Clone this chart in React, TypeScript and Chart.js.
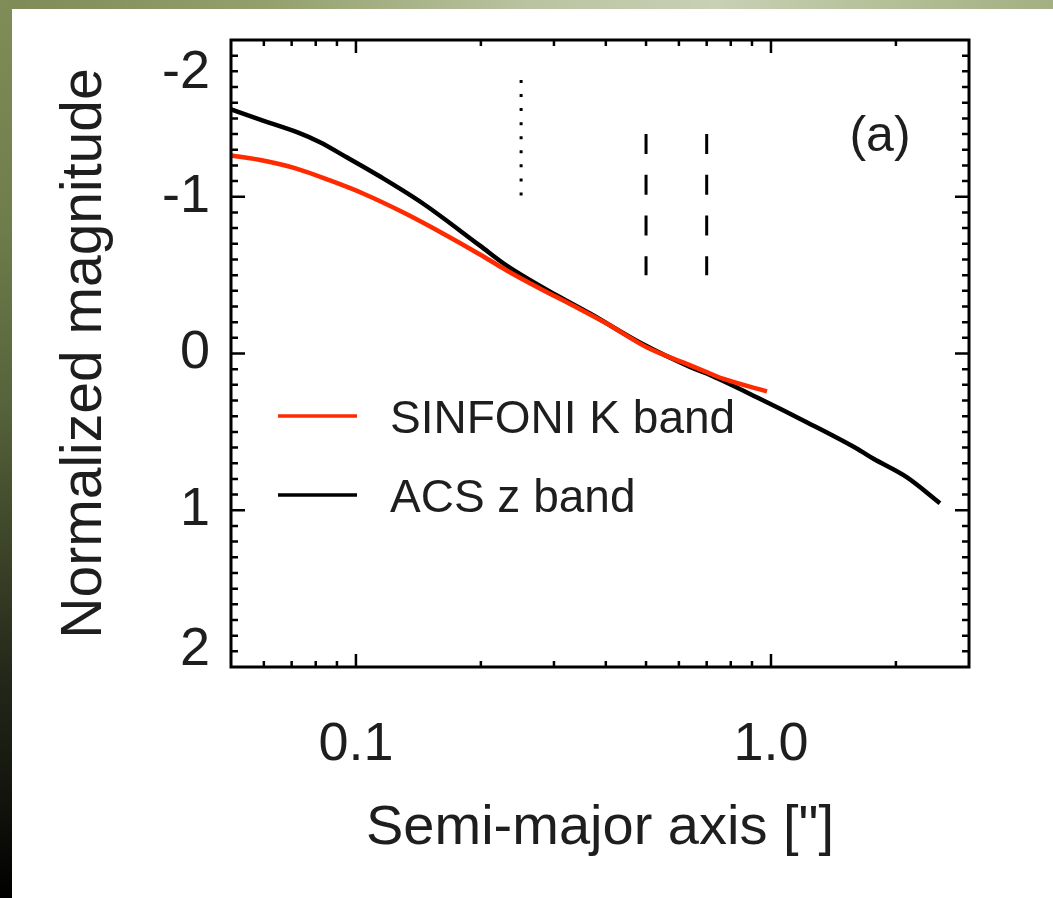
import React, { useEffect, useRef } from 'react';
import { Chart, registerables } from 'chart.js';

Chart.register(...registerables);

// ---- data ----
const acsRadius = [0.05, 0.0597, 0.0721, 0.0819, 0.095, 0.1143, 0.145, 0.199, 0.2308, 0.305, 0.3664, 0.483, 0.638, 0.7, 0.924, 1.219, 1.609, 1.762, 2.123, 2.553];
const acsMag = [-1.557, -1.486, -1.412, -1.348, -1.252, -1.129, -0.957, -0.688, -0.561, -0.37, -0.255, -0.07, 0.085, 0.128, 0.279, 0.438, 0.606, 0.67, 0.789, 0.955];

const sinfoniRadius = [0.05, 0.0597, 0.0719, 0.0866, 0.104, 0.1298, 0.162, 0.199, 0.2308, 0.2774, 0.3333, 0.4019, 0.5017, 0.614, 0.7, 0.766, 0.978];
const sinfoniMag = [-1.263, -1.231, -1.18, -1.104, -1.021, -0.901, -0.766, -0.632, -0.53, -0.415, -0.306, -0.191, -0.04, 0.057, 0.119, 0.161, 0.242];

const dottedMarkerX = [0.25, 0.25];
const dottedMarkerY = [-1.745, -1.0];
const dashedMarker1X = [0.5, 0.5];
const dashedMarker2X = [0.7, 0.7];
const dashedMarkerY = [-1.4, -0.5];

const seriesLabels = ['SINFONI K band', 'ACS z band'];
const panelLabel = '(a)';

const xTickValues = [0.06, 0.07, 0.08, 0.09, 0.1, 0.2, 0.3, 0.4, 0.5, 0.6, 0.7, 0.8, 0.9, 1, 2];
const xMajorValues = [0.1, 1];
const xMajorLabels = ['0.1', '1.0'];
const yTickValues = [-2, -1, 0, 1, 2];
const yTickLabels = ['-2', '-1', '0', '1', '2'];

const xTitle = 'Semi-major axis ["]';
const yTitle = 'Normalized magnitude';

const FONT = "'Liberation Sans', Arial, Helvetica, sans-serif";
const TEXT = '#1e1e1e';
const RED = '#ff2a00';

const pts = (xs: number[], ys: number[]) => xs.map((x, i) => ({ x, y: ys[i] }));

const framePlugin = {
  id: 'idlFrame',
  afterDatasetsDraw(chart: any) {
    const { ctx, chartArea, scales } = chart;
    const { left, right, top, bottom } = chartArea;
    const xs = scales.x;
    const ys = scales.y;
    ctx.save();
    ctx.strokeStyle = '#000';
    ctx.lineCap = 'butt';
    ctx.lineWidth = 2.5;
    ctx.beginPath();
    xTickValues.forEach((v) => {
      const px = xs.getPixelForValue(v);
      const len = xMajorValues.includes(v) ? 13 : 6;
      ctx.moveTo(px, bottom);
      ctx.lineTo(px, bottom - len);
      ctx.moveTo(px, top);
      ctx.lineTo(px, top + len);
    });
    const yMin = ys.min;
    const yMax = ys.max;
    const n = Math.round((yMax - yMin) / 0.1);
    for (let i = 1; i < n; i++) {
      const v = yMin + i * 0.1;
      const py = ys.getPixelForValue(v);
      const major = Math.abs(v - Math.round(v)) < 1e-6;
      const len = major ? 14 : 7;
      ctx.moveTo(left, py);
      ctx.lineTo(left + len, py);
      ctx.moveTo(right, py);
      ctx.lineTo(right - len, py);
    }
    ctx.stroke();
    ctx.lineWidth = 3;
    ctx.strokeRect(left, top, right - left, bottom - top);

    // y tick labels
    ctx.fillStyle = TEXT;
    ctx.font = `54px ${FONT}`;
    ctx.textAlign = 'right';
    ctx.textBaseline = 'middle';
    yTickValues.forEach((v, i) => {
      let py = ys.getPixelForValue(v);
      py = Math.min(Math.max(py, top + 33), bottom - 17);
      ctx.fillText(yTickLabels[i], left - 21, py);
    });

    // legend
    const legendColors = [RED, '#000'];
    const legendY = [xs.top - 251, xs.top - 172];
    ctx.font = `46px ${FONT}`;
    ctx.textAlign = 'left';
    ctx.textBaseline = 'alphabetic';
    seriesLabels.forEach((lab, i) => {
      const ly = legendY[i];
      ctx.strokeStyle = legendColors[i];
      ctx.lineWidth = 3.5;
      ctx.beginPath();
      ctx.moveTo(left + 47, ly);
      ctx.lineTo(left + 126, ly);
      ctx.stroke();
      ctx.fillText(lab, left + 159, ly + 17);
    });

    // panel label
    ctx.font = `50px ${FONT}`;
    ctx.textAlign = 'center';
    ctx.textBaseline = 'middle';
    ctx.fillText(panelLabel, right - 89, top + 97);
    ctx.restore();
  },
};

export default function App() {
  const canvasRef = useRef<HTMLCanvasElement | null>(null);

  useEffect(() => {
    if (!canvasRef.current) return;
    const curve = {
      borderWidth: 4.5,
      pointRadius: 0,
      cubicInterpolationMode: 'monotone',
      borderCapStyle: 'butt',
      borderJoinStyle: 'round',
    };
    const chart = new Chart(canvasRef.current, {
      type: 'line',
      data: {
        datasets: [
          { label: seriesLabels[0], data: pts(sinfoniRadius, sinfoniMag), borderColor: RED, ...curve },
          { label: seriesLabels[1], data: pts(acsRadius, acsMag), borderColor: '#000', ...curve },
          {
            label: 'dotted',
            data: pts(dottedMarkerX, dottedMarkerY),
            borderColor: '#000',
            borderWidth: 3,
            pointRadius: 0,
            borderDash: [3, 11.06],
            borderCapStyle: 'butt',
          },
          {
            label: 'dashed1',
            data: pts(dashedMarker1X, dashedMarkerY),
            borderColor: '#000',
            borderWidth: 3,
            pointRadius: 0,
            borderDash: [20, 20.7],
            borderCapStyle: 'butt',
          },
          {
            label: 'dashed2',
            data: pts(dashedMarker2X, dashedMarkerY),
            borderColor: '#000',
            borderWidth: 3,
            pointRadius: 0,
            borderDash: [20, 20.7],
            borderCapStyle: 'butt',
          },
        ],
      },
      options: {
        animation: false,
        responsive: true,
        maintainAspectRatio: false,
        layout: { padding: { left: 0, top: 31, right: 84, bottom: 0 } },
        plugins: { legend: { display: false }, tooltip: { enabled: false } },
        scales: {
          x: {
            type: 'logarithmic',
            min: 0.05,
            max: 3,
            grid: { display: false, drawTicks: false },
            border: { display: false },
            afterBuildTicks: (scale: any) => {
              scale.ticks = xTickValues.map((v) => ({ value: v, major: xMajorValues.includes(v) }));
            },
            afterFit: (scale: any) => {
              scale.height = 231;
            },
            ticks: {
              autoSkip: false,
              maxRotation: 0,
              minRotation: 0,
              padding: 46,
              color: TEXT,
              font: { family: FONT, size: 54 },
              callback: (value: any) => {
                const idx = xMajorValues.findIndex((m) => Math.abs(m - Number(value)) < 1e-9);
                return idx >= 0 ? xMajorLabels[idx] : '';
              },
            },
            title: {
              display: true,
              text: xTitle,
              color: TEXT,
              font: { family: FONT, size: 56 },
              padding: { top: 0, bottom: 36 },
            },
          },
          y: {
            type: 'linear',
            reverse: true,
            min: -2,
            max: 2,
            grid: { display: false, drawTicks: false },
            border: { display: false },
            ticks: { display: false },
            afterFit: (scale: any) => {
              scale.width = 219;
            },
            title: {
              display: true,
              text: yTitle,
              color: TEXT,
              font: { family: FONT, size: 57 },
              padding: { top: 39, bottom: 0 },
            },
          },
        },
      },
      plugins: [framePlugin],
    } as any);
    return () => chart.destroy();
  }, []);

  return (
    <div
      style={{
        position: 'absolute',
        left: 0,
        top: 0,
        width: 1053,
        height: 898,
        overflow: 'hidden',
        background: 'linear-gradient(90deg, #7e8b56 0%, #93a06c 25%, #b9c3a0 50%, #c8d0b5 68%, #b3bf96 85%, #a2b083 100%)',
      }}
    >
      <div
        style={{
          position: 'absolute',
          left: 0,
          top: 0,
          width: 12,
          height: 898,
          background:
            'linear-gradient(180deg, #808d58 0%, #6f7d4b 25%, #56633b 45%, #3b4227 62%, #24281a 75%, #14160e 88%, #000 100%)',
        }}
      />
      <div style={{ position: 'absolute', left: 12, top: 9, width: 1041, height: 889, background: '#fff' }}>
        <canvas ref={canvasRef} />
      </div>
    </div>
  );
}
